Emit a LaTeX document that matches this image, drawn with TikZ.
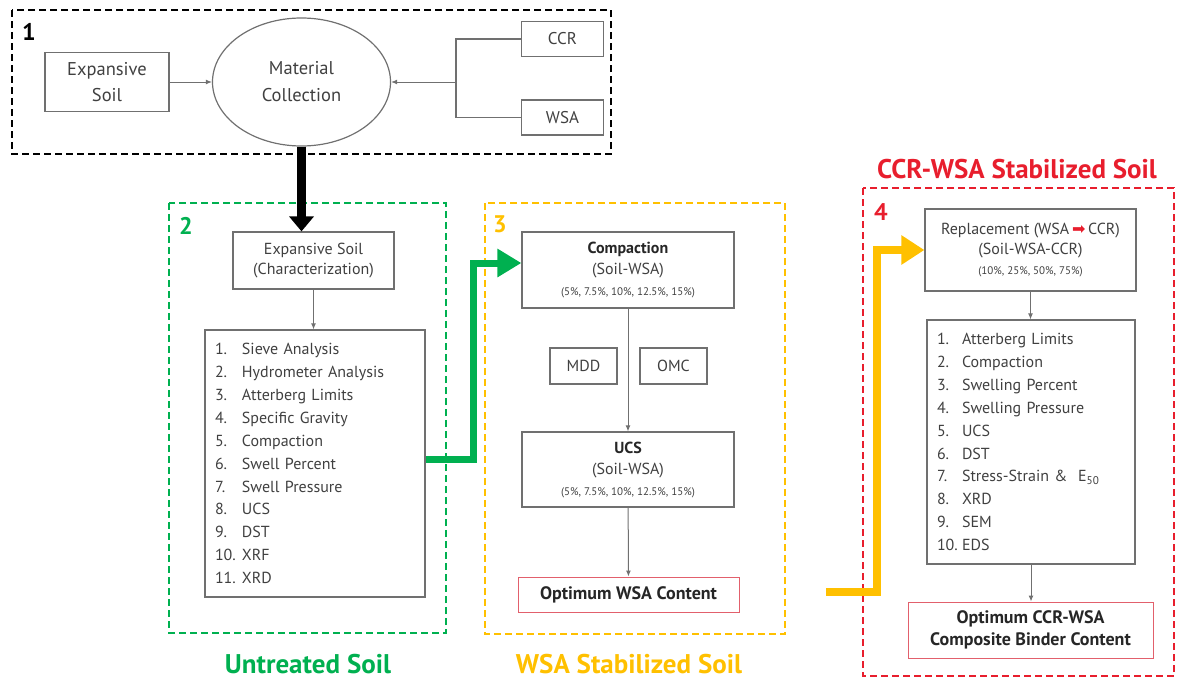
\documentclass[tikz,border=0pt]{standalone}
\usepackage{fontspec}
\setmainfont{PT Sans}
\newfontfamily\symfont{DejaVu Sans}
\usepackage{xcolor}
\usetikzlibrary{shapes,arrows.meta,positioning,calc}
\definecolor{cgreen}{RGB}{0,176,80}
\definecolor{cyellow}{RGB}{255,192,0}
\definecolor{cred}{RGB}{232,30,45}
\definecolor{cpink}{RGB}{226,96,108}
\definecolor{cgray}{RGB}{112,112,112}
\newcommand{\itm}[3][27pt]{\makebox[#1][l]{#2}#3}
\newcommand{\pct}[1]{{\fontsize{11}{12}\selectfont #1}}

\begin{document}
\begin{tikzpicture}[x=1pt, y=-1pt,
        box/.style={rectangle, draw=cgray, line width=1.2pt, text=black!75, align=center, inner sep=2pt},
        listbox/.style={box, align=left, font=\fontsize{16}{22.9}\selectfont},
        result/.style={box, draw=cpink, line width=1pt, text=black!85, font=\fontsize{18}{22}\selectfont\bfseries},
        frame/.style={line width=2pt, dash pattern=on 7pt off 4pt},
        tag/.style={font=\fontsize{24}{24}\selectfont\bfseries},
        title/.style={font=\fontsize{27}{30}\selectfont\bfseries},
        arrow/.style={->, >={Latex[length=6pt,width=5pt]}, cgray, line width=1pt},
        line/.style={cgray, line width=1.2pt},
        blackarrow/.style={line width=9pt, -{Triangle[length=15pt,width=24pt]}},
        greenarrow/.style={cgreen, line width=7pt, -{Triangle[length=24pt,width=27pt]}},
        yellowarrow/.style={cyellow, line width=8pt, -{Triangle[length=23pt,width=28pt]}}
    ]
        \useasboundingbox (0,0) rectangle (1182,680);

        % group frames
        \draw[frame, draw=black] (12,10) rectangle (611,154);
        \draw[frame, draw=cgreen] (169,203) rectangle (446,633);
        \draw[frame, draw=cyellow] (485,203) rectangle (785,634);
        \draw[frame, draw=cred] (863,188) rectangle (1174,676);

        \node[tag] (n1) at (29,32) {1};
        \node[tag, text=cgreen] (n2) at (186,226) {2};
        \node[tag, text=cyellow] (n3) at (500,224) {3};
        \node[tag, text=cred] (n4) at (881,212) {4};

        \node[title, text=cgreen] (t2) at (308,664) {Untreated Soil};
        \node[title, text=cyellow] (t3) at (629,664) {WSA Stabilized Soil};
        \node[title, text=cred] (t4) at (1017,169) {CCR-WSA Stabilized Soil};

        % 1: material collection
        \node[box, minimum width=124pt, minimum height=59pt, font=\fontsize{18.5}{26}\selectfont] (es) at (107,82) {Expansive\\Soil};
        \node[ellipse, draw=cgray, line width=1.2pt, text=black!75, align=center, minimum width=178pt, minimum height=128pt, font=\fontsize{18.5}{27}\selectfont] (mc) at (301.5,82) {Material\\Collection};
        \node[box, minimum width=82pt, minimum height=35pt, font=\fontsize{17}{20}\selectfont] (ccr) at (562.5,39) {CCR};
        \node[box, minimum width=82pt, minimum height=35pt, font=\fontsize{17}{20}\selectfont] (wsa) at (562.5,117.5) {WSA};
        \coordinate (jn) at (456,82);

        \draw[line] (ccr.west) -| (jn) |- (wsa.west);
        \draw[arrow] (jn) -- (mc.east);
        \draw[arrow] (es.east) -- (mc.west);

        % 2: untreated soil
        \node[box, minimum width=161pt, minimum height=57pt, font=\fontsize{16}{20}\selectfont] (chr) at (313.5,260.5) {Expansive Soil\\(Characterization)};
        \node[listbox, minimum width=220pt, minimum height=267pt, text width=200pt] (lst2) at (315,463.5) {%
            \itm{1.}{Sieve Analysis}\\ \itm{2.}{Hydrometer Analysis}\\ \itm{3.}{Atterberg Limits}\\
            \itm{4.}{Specific Gravity}\\ \itm{5.}{Compaction}\\ \itm{6.}{Swell Percent}\\
            \itm{7.}{Swell Pressure}\\ \itm{8.}{UCS}\\ \itm{9.}{DST}\\ \itm{10.}{XRF}\\ \itm{11.}{XRD}};

        \draw[arrow] (chr.south) -- (chr.south |- lst2.north);

        % 3: WSA stabilized soil
        \node[box, minimum width=212pt, minimum height=76pt, font=\fontsize{16}{21}\selectfont] (comp) at (628,270) {\textbf{\textcolor{black!85}{Compaction}}\\(Soil-WSA)\\\pct{(5\%, 7.5\%, 10\%, 12.5\%, 15\%)}};
        \node[box, minimum width=67pt, minimum height=36pt, font=\fontsize{16}{18}\selectfont] (mdd) at (583.5,366) {MDD};
        \node[box, minimum width=67pt, minimum height=36pt, font=\fontsize{16}{18}\selectfont] (omc) at (673.5,366) {OMC};
        \node[box, minimum width=212pt, minimum height=75pt, font=\fontsize{16}{21}\selectfont] (ucs) at (628,469.5) {\textbf{\textcolor{black!85}{UCS}}\\(Soil-WSA)\\\pct{(5\%, 7.5\%, 10\%, 12.5\%, 15\%)}};
        \node[result, minimum width=221pt, minimum height=35pt] (optw) at (628.5,594.5) {Optimum WSA Content};

        \draw[arrow] (comp) -- (ucs);
        \draw[arrow] (ucs) -- (optw);

        % 4: CCR-WSA stabilized soil
        \node[box, minimum width=211pt, minimum height=82pt, font=\fontsize{16}{20}\selectfont] (rep) at (1030.5,250) {Replacement (WSA\,{\symfont\textcolor{cred}{➡}}\,CCR)\\(Soil-WSA-CCR)\\\pct{(10\%, 25\%, 50\%, 75\%)}};
        \node[listbox, minimum width=208pt, minimum height=244pt, text width=188pt] (lst4) at (1031,442) {%
            \itm[25pt]{1.}{Atterberg Limits}\\ \itm[25pt]{2.}{Compaction}\\ \itm[25pt]{3.}{Swelling Percent}\\
            \itm[25pt]{4.}{Swelling Pressure}\\ \itm[25pt]{5.}{UCS}\\ \itm[25pt]{6.}{DST}\\
            \itm[25pt]{7.}{Stress-Strain \&\ \ E\textsubscript{50}}\\ \itm[25pt]{8.}{XRD}\\ \itm[25pt]{9.}{SEM}\\ \itm[25pt]{10.}{EDS}};
        \node[result, minimum width=245pt, minimum height=56pt] (optc) at (1030.5,630) {Optimum CCR-WSA\\Composite Binder Content};

        \draw[arrow] (rep.south) -- (rep.south |- lst4.north);
        \draw[arrow] (lst4.south) -- (lst4.south |- optc.north);

        % thick flow arrows
        \draw[blackarrow] (mc.south) -- (mc.south |- chr.north);
        \coordinate (g1) at (473,263);
        \draw[greenarrow] ([yshift=4pt]lst2.east) -| (g1) -- (g1 -| comp.west);
        \coordinate (ys) at (826,592);
        \coordinate (y1) at (877,592);
        \draw[yellowarrow] (ys) -- (y1) |- (rep.west);
    \end{tikzpicture}
\end{document}
